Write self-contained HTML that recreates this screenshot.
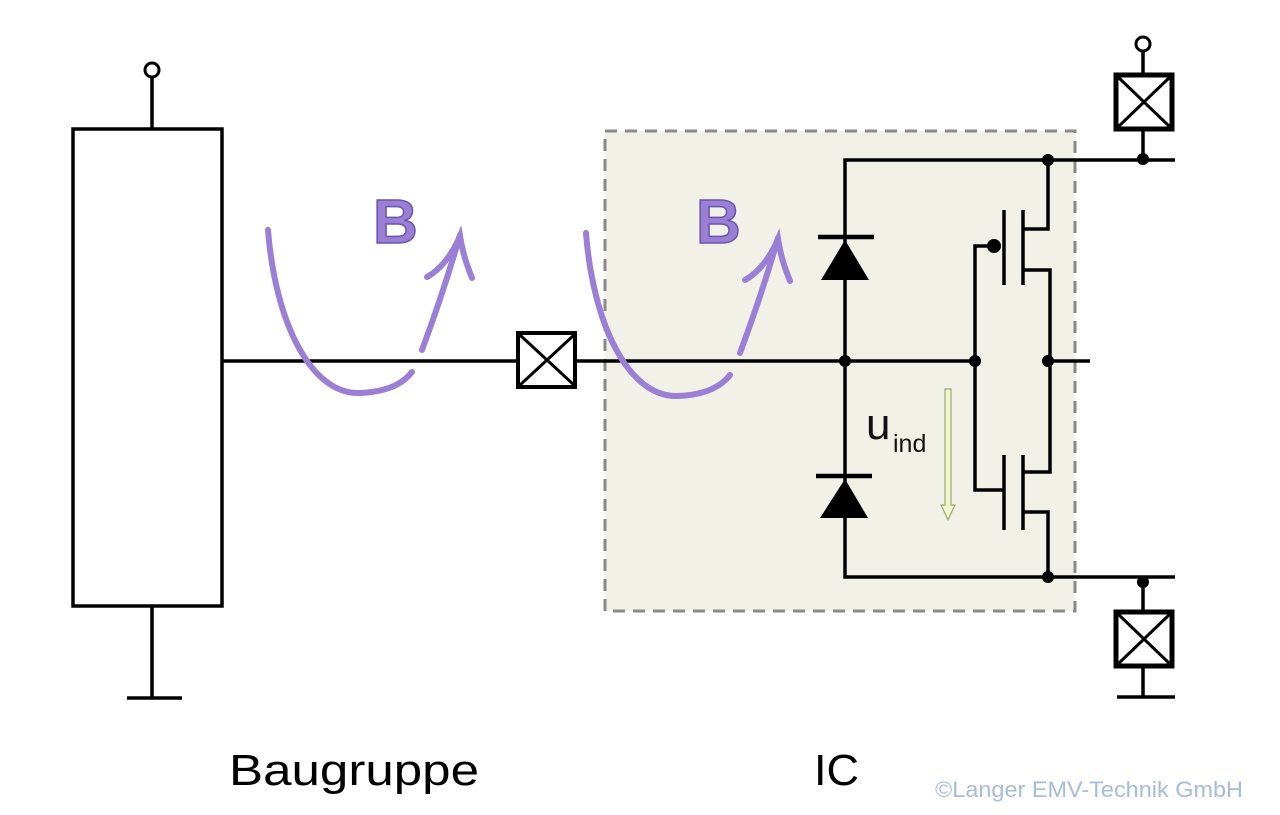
<!DOCTYPE html>
<html><head><meta charset="utf-8"><style>
html,body{margin:0;padding:0;background:#fff;width:1280px;height:815px;overflow:hidden}
svg{display:block}
</style></head><body>
<svg width="1280" height="815" viewBox="0 0 1280 815" xmlns="http://www.w3.org/2000/svg">
<rect x="605" y="131" width="470" height="480" fill="#f1f1e8" stroke="#8a8a8a" stroke-width="3" stroke-dasharray="12,8"/>
<g stroke="#000" stroke-width="3.5" fill="none">
<rect x="73" y="129" width="149" height="477" fill="#fff"/>
<line x1="152" y1="77" x2="152" y2="129"/>
<line x1="152" y1="606" x2="152" y2="698"/>
<line x1="127" y1="698" x2="182" y2="698"/>
<line x1="222" y1="361" x2="518" y2="361"/>
<line x1="576" y1="361" x2="975" y2="361"/>
<rect x="518" y="333" width="57" height="54" fill="#fff" stroke-width="4"/>
<line x1="520" y1="335" x2="574" y2="385" stroke-width="3"/>
<line x1="574" y1="335" x2="520" y2="385" stroke-width="3"/>
<polyline points="1175,160 845,160 845,577 1175,577"/>
<line x1="818" y1="237" x2="874" y2="237" stroke-width="4.5"/>
<line x1="816" y1="476" x2="872" y2="476" stroke-width="4.5"/>
<polyline points="993,246 975,246 975,490 1003,490"/>
<line x1="1004" y1="210" x2="1004" y2="285"/>
<line x1="1023" y1="210" x2="1023" y2="285"/>
<polyline points="1023,229 1048,229 1048,160"/>
<polyline points="1023,270 1050,270 1050,472 1023,472"/>
<line x1="1004" y1="455" x2="1004" y2="530"/>
<line x1="1023" y1="455" x2="1023" y2="530"/>
<polyline points="1023,512 1048,512 1048,577"/>
<line x1="1048" y1="361" x2="1090" y2="361"/>
<line x1="1143" y1="50" x2="1143" y2="75"/>
<line x1="1143" y1="129" x2="1143" y2="160"/>
<rect x="1116" y="75" width="56" height="54" fill="#fff" stroke-width="5"/>
<line x1="1118" y1="77" x2="1170" y2="127" stroke-width="3"/>
<line x1="1170" y1="77" x2="1118" y2="127" stroke-width="3"/>
<line x1="1143" y1="582" x2="1143" y2="612"/>
<line x1="1143" y1="666" x2="1143" y2="697"/>
<line x1="1117" y1="697" x2="1175" y2="697"/>
<rect x="1116" y="612" width="56" height="54" fill="#fff" stroke-width="5"/>
<line x1="1118" y1="614" x2="1170" y2="664" stroke-width="3"/>
<line x1="1170" y1="614" x2="1118" y2="664" stroke-width="3"/>
<circle cx="152" cy="70" r="7" fill="#fff" stroke-width="3"/>
<circle cx="1143" cy="44" r="7" fill="#fff" stroke-width="3"/>
</g>
<polygon points="845,240 821,280 869,280" fill="#000"/>
<polygon points="845,479 820,518 868,518" fill="#000"/>
<g fill="#000">
<circle cx="845" cy="361" r="6"/><circle cx="975" cy="361" r="6"/><circle cx="1048" cy="361" r="6"/>
<circle cx="1048" cy="160" r="6"/><circle cx="1048" cy="577" r="6"/>
<circle cx="1143" cy="159" r="6"/><circle cx="1143" cy="582" r="6"/>
<circle cx="994" cy="246" r="7"/>
</g>
<path d="M945,389 L951,389 L951,505 L955,505 L948,520 L941,505 L945,505 Z" fill="#eef6d0" stroke="#9aa86a" stroke-width="1.2"/>
<text x="866" y="439" font-family="Liberation Sans, sans-serif" font-size="44" fill="#111">u</text>
<text x="893" y="452" font-family="Liberation Sans, sans-serif" font-size="25" fill="#111">ind</text>
<g stroke="#9b7fd6" stroke-width="6" fill="none" stroke-linecap="round">
<path d="M268,230 C275,320 310,395 360,393 C385,392 402,385 412,372"/>
<path d="M422,350 C435,315 450,270 460,235"/>
<path d="M427,277 C440,270 452,255 460,236 C463,255 468,268 472,278"/>
<g transform="translate(318,3)">
<path d="M268,230 C275,320 310,395 360,393 C385,392 402,385 412,372"/>
<path d="M422,350 C435,315 450,270 460,235"/>
<path d="M427,277 C440,270 452,255 460,236 C463,255 468,268 472,278"/>
</g>
</g>
<text x="373" y="243" font-family="Liberation Sans, sans-serif" font-weight="bold" font-size="62" fill="#9b7fd6" stroke="#6a55a8" stroke-width="1.5">B</text>
<text x="696" y="243" font-family="Liberation Sans, sans-serif" font-weight="bold" font-size="62" fill="#9b7fd6" stroke="#6a55a8" stroke-width="1.5">B</text>
<text x="229" y="785" font-family="Liberation Sans, sans-serif" font-size="44" fill="#000" textLength="250" lengthAdjust="spacingAndGlyphs">Baugruppe</text>
<text x="814" y="785" font-family="Liberation Sans, sans-serif" font-size="44" fill="#000" textLength="45" lengthAdjust="spacingAndGlyphs">IC</text>
<text x="935" y="797" font-family="Liberation Sans, sans-serif" font-size="22" fill="#a7bcd9" textLength="308" lengthAdjust="spacingAndGlyphs">©Langer EMV-Technik GmbH</text>
</svg>
</body></html>
